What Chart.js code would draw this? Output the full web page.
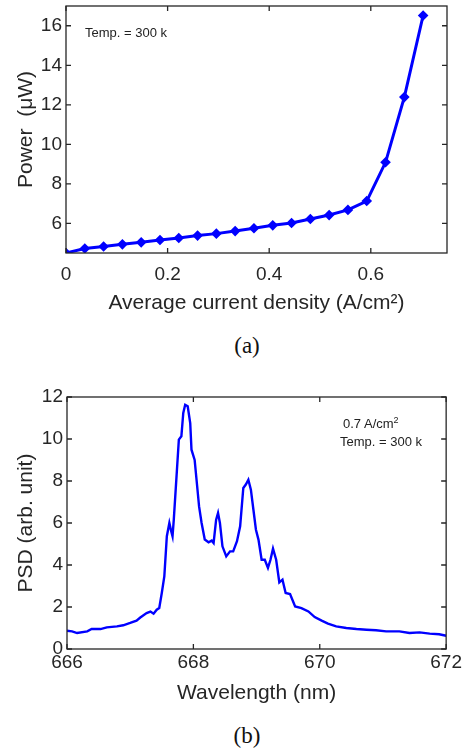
<!DOCTYPE html>
<html>
<head>
<meta charset="utf-8">
<script src="https://cdn.jsdelivr.net/npm/chart.js@4.4.0/dist/chart.umd.min.js"></script>
<style>
  body { margin: 0; background: #fff; width: 464px; height: 753px; overflow: hidden; position: relative; font-family: "Liberation Sans", Arial, sans-serif; }
  .panel { position: absolute; left: 0; }
  .cap { position: absolute; left: 0; width: 494px; text-align: center; font-family: "Liberation Serif", "Times New Roman", serif; font-size: 23px; color: #111; }
  .note { position: absolute; font-size: 13px; color: #222; white-space: nowrap; }
  .note sup { font-size: 9px; }
</style>
</head>
<body>
<div class="panel" style="top:-10px"><canvas id="powerChart" width="464" height="330"></canvas></div>
<div class="note" style="left:85px; top:25px">Temp. = 300 k</div>
<div class="cap" style="top:333px">(a)</div>

<div class="panel" style="top:380px"><canvas id="psdChart" width="464" height="330"></canvas></div>
<div class="note" style="left:343px; top:415px">0.7 A/cm<sup>2</sup></div>
<div class="note" style="left:340px; top:434px">Temp. = 300 k</div>
<div class="cap" style="top:723px">(b)</div>

<script>
// (a) power vs current density
const currentDensity = [0, 0.037, 0.074, 0.111, 0.148, 0.185, 0.222, 0.259, 0.296, 0.333,
  0.370, 0.407, 0.444, 0.481, 0.518, 0.555, 0.592, 0.629, 0.666, 0.703];
const power = [4.5, 4.73, 4.83, 4.94, 5.04, 5.16, 5.26, 5.38, 5.48, 5.61,
  5.75, 5.90, 6.02, 6.22, 6.42, 6.68, 7.13, 9.09, 12.39, 16.52];
const powerXTicks = [0, 0.2, 0.4, 0.6];
const powerYTicks = [6, 8, 10, 12, 14, 16];

// (b) spectrum
const wavelength = [666.00, 666.08, 666.16, 666.32, 666.39, 666.53, 666.63, 666.79, 666.89, 667.00,
  667.10, 667.16, 667.26, 667.32, 667.37, 667.42, 667.46, 667.50, 667.54, 667.58,
  667.62, 667.65, 667.67, 667.69, 667.74, 667.77, 667.81, 667.84, 667.87, 667.91,
  667.95, 667.97, 668.02, 668.05, 668.09, 668.13, 668.18, 668.24, 668.29, 668.32,
  668.36, 668.39, 668.42, 668.46, 668.52, 668.58, 668.63, 668.69, 668.74, 668.79,
  668.83, 668.87, 668.91, 668.95, 668.99, 669.03, 669.08, 669.13, 669.18, 669.22,
  669.26, 669.31, 669.36, 669.41, 669.46, 669.53, 669.61, 669.71, 669.82, 669.92,
  670.03, 670.13, 670.26, 670.42, 670.58, 670.74, 670.89, 671.05, 671.26, 671.42,
  671.58, 671.74, 671.89, 672.00];
const psd = [0.87, 0.84, 0.76, 0.84, 0.95, 0.95, 1.03, 1.08, 1.13, 1.24,
  1.35, 1.50, 1.71, 1.78, 1.68, 1.87, 1.95, 2.67, 3.46, 5.37,
  6.00, 5.60, 5.37, 6.16, 8.54, 9.97, 10.13, 11.24, 11.63, 11.56,
  10.76, 9.49, 9.00, 8.06, 6.79, 6.00, 5.21, 5.08, 5.16, 5.05,
  6.16, 6.48, 6.00, 4.89, 4.41, 4.65, 4.65, 5.13, 5.84, 7.67,
  7.83, 8.06, 7.59, 6.63, 5.68, 5.21, 4.25, 4.25, 3.86, 4.25,
  4.78, 4.25, 3.17, 3.30, 2.67, 2.62, 2.03, 1.95, 1.79, 1.52,
  1.35, 1.21, 1.08, 1.00, 0.95, 0.92, 0.89, 0.84, 0.84, 0.76,
  0.79, 0.73, 0.70, 0.63];
const psdXTicks = [666, 668, 670, 672];
const psdYTicks = [0, 2, 4, 6, 8, 10, 12];

const ink = "#262626";
const sans = "'Liberation Sans', Arial, sans-serif";

// matlab style box with inward ticks
const boxPlugin = {
  id: "box",
  afterDraw(chart) {
    const { ctx, chartArea: a, scales } = chart;
    const len = 5;
    ctx.save();
    ctx.strokeStyle = ink;
    ctx.lineWidth = 1.3;
    ctx.strokeRect(a.left, a.top, a.width, a.height);
    ctx.beginPath();
    scales.x.ticks.forEach(t => {
      const px = scales.x.getPixelForValue(t.value);
      ctx.moveTo(px, a.bottom); ctx.lineTo(px, a.bottom - len);
      ctx.moveTo(px, a.top); ctx.lineTo(px, a.top + len);
    });
    scales.y.ticks.forEach(t => {
      const py = scales.y.getPixelForValue(t.value);
      ctx.moveTo(a.left, py); ctx.lineTo(a.left + len, py);
      ctx.moveTo(a.right, py); ctx.lineTo(a.right - len, py);
    });
    ctx.stroke();
    ctx.restore();
  }
};

function axis(min, max, ticks, title, size, fitSize, tickPad) {
  return {
    type: "linear",
    min: min,
    max: max,
    afterBuildTicks: s => { s.ticks = ticks.map(v => ({ value: v })); },
    afterFit: s => { if (s.isHorizontal()) s.height = fitSize; else s.width = fitSize; },
    grid: { display: false, drawTicks: false, tickLength: 0 },
    border: { display: false },
    ticks: { color: ink, padding: tickPad, font: { family: sans, size: 19 }, maxRotation: 0, autoSkip: false },
    title: { display: true, text: title, color: ink, font: { family: sans, size: 21 }, padding: size }
  };
}

function makeChart(id, points, lineWidth, markers, xs, ys, pad) {
  return new Chart(document.getElementById(id), {
    type: "line",
    data: {
      datasets: [{
        data: points,
        borderColor: "#0000ff",
        backgroundColor: "#0000ff",
        borderWidth: lineWidth,
        pointStyle: "rectRot",
        pointRadius: markers ? 3.2 : 0,
        tension: 0,
        fill: false
      }]
    },
    options: {
      responsive: false,
      animation: false,
      devicePixelRatio: 1,
      layout: { padding: pad },
      plugins: { legend: { display: false }, tooltip: { enabled: false } },
      scales: { x: xs, y: ys }
    },
    plugins: [boxPlugin]
  });
}

makeChart("powerChart",
  currentDensity.map((c, i) => ({ x: c, y: power[i] })), 3, true,
  axis(0, 0.75, powerXTicks, "Average current density (A/cm²)", { top: 0, bottom: 4 }, 67, 10),
  axis(4.5, 17, powerYTicks, "Power  (μW)", { top: 14 }, 66, 4),
  { top: 16, right: 17, left: 0, bottom: 0 });

makeChart("psdChart",
  wavelength.map((w, i) => ({ x: w, y: psd[i] })), 2.4, false,
  axis(666, 672, psdXTicks, "Wavelength (nm)", { top: 0, bottom: 4 }, 61, 2),
  axis(0, 12, psdYTicks, "PSD (arb. unit)", { top: 14 }, 67, 4),
  { top: 17, right: 17, left: 0, bottom: 0 });
</script>
</body>
</html>
